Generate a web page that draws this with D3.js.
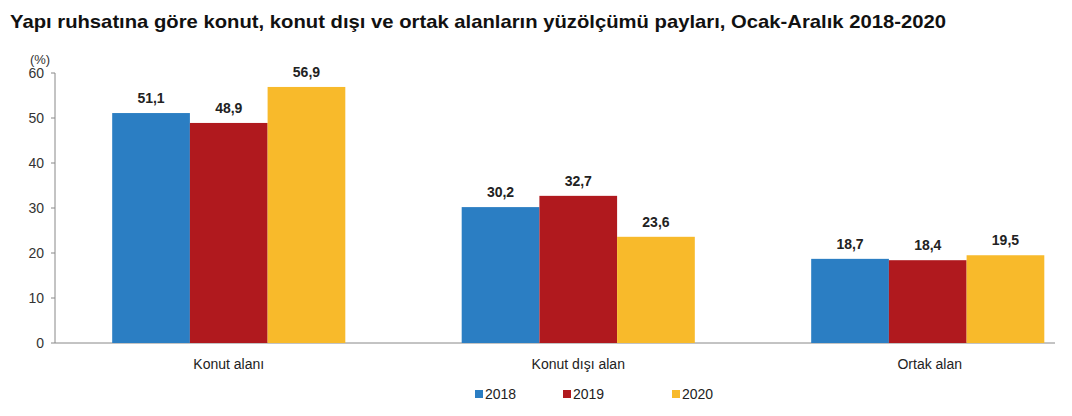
<!DOCTYPE html><html><head><meta charset="utf-8"><script src="https://cdn.jsdelivr.net/npm/d3@7"></script>
<style>body{margin:0;background:#fff}text{font-family:"Liberation Sans",Arial,sans-serif}</style></head><body>
<svg id="c" width="1072" height="416"></svg>
<script>
const categories=["Konut alanı","Konut dışı alan","Ortak alan"];
const years=["2018","2019","2020"];
const v2018=[51.1,30.2,18.7];
const v2019=[48.9,32.7,18.4];
const v2020=[56.9,23.6,19.5];
const yTicks=[0,10,20,30,40,50,60];
const colors=["#2B7EC3","#B0191E","#F8BA2B"];
const series=[v2018,v2019,v2020];
const svg=d3.select("#c");
svg.append("text").attr("x",10).attr("y",28).attr("font-size",18.5).attr("font-weight","bold").attr("fill","#111")
 .attr("textLength",936).attr("lengthAdjust","spacingAndGlyphs")
 .text("Yapı ruhsatına göre konut, konut dışı ve ortak alanların yüzölçümü payları, Ocak-Aralık 2018-2020");
const y=d3.scaleLinear().domain([0,60]).range([343,73]);
const x=d3.scaleBand().domain(categories).range([54,1102.5]).paddingInner(0.333).paddingOuter(0.1665);
const xi=d3.scaleBand().domain(years).range([0,x.bandwidth()]);
const g=svg.append("g");
g.append("line").attr("x1",55).attr("x2",55).attr("y1",73).attr("y2",343).attr("stroke","#888");
g.append("line").attr("x1",55).attr("x2",1055).attr("y1",343).attr("y2",343).attr("stroke","#888");
yTicks.forEach(t=>{g.append("line").attr("x1",51).attr("x2",55).attr("y1",y(t)).attr("y2",y(t)).attr("stroke","#888");
 g.append("text").attr("x",44).attr("y",y(t)+5).attr("text-anchor","end").attr("font-size",14).attr("fill","#333").text(t);});
g.append("text").attr("x",40).attr("y",64).attr("text-anchor","middle").attr("font-size",13).attr("fill","#333").text("(%)");
categories.forEach((c,i)=>{
 series.forEach((s,j)=>{
  const bx=x(c)+xi(years[j]);
  g.append("rect").attr("x",bx).attr("y",y(s[i])).attr("width",xi.bandwidth()).attr("height",y(0)-y(s[i])).attr("fill",colors[j]);
  g.append("text").attr("x",bx+xi.bandwidth()/2).attr("y",y(s[i])-10).attr("text-anchor","middle").attr("font-size",14).attr("font-weight","bold").attr("fill","#222").text(String(s[i]).replace(".",","));
 });
 g.append("text").attr("x",x(c)+x.bandwidth()/2+(i==2?2:0)).attr("y",369).attr("text-anchor","middle").attr("font-size",14).attr("fill","#222").text(c);
});
const lx=[475,563,672];
years.forEach((yr,j)=>{
 svg.append("rect").attr("x",lx[j]).attr("y",390).attr("width",8).attr("height",8).attr("fill",colors[j]);
 svg.append("text").attr("x",lx[j]+10).attr("y",399).attr("font-size",14).attr("fill","#222").text(yr);
});
</script></body></html>
